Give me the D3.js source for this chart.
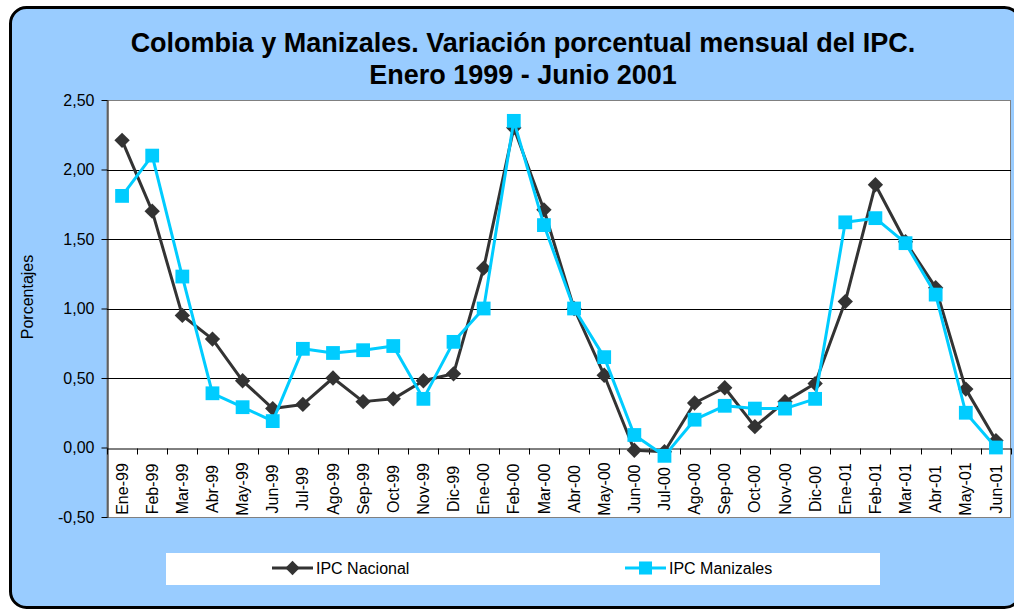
<!DOCTYPE html>
<html>
<head>
<meta charset="utf-8">
<script src="https://cdn.jsdelivr.net/npm/d3@7"></script>
<style>
  body { margin: 0; background: #fff; }
  svg text { font-family: Arial, "Liberation Sans", sans-serif; }
</style>
</head>
<body>
<svg id="chart" width="1014" height="609"></svg>
<script>
// datos
const meses = ['Ene-99', 'Feb-99', 'Mar-99', 'Abr-99', 'May-99', 'Jun-99', 'Jul-99', 'Ago-99', 'Sep-99', 'Oct-99', 'Nov-99', 'Dic-99',
  'Ene-00', 'Feb-00', 'Mar-00', 'Abr-00', 'May-00', 'Jun-00', 'Jul-00', 'Ago-00', 'Sep-00', 'Oct-00', 'Nov-00', 'Dic-00',
  'Ene-01', 'Feb-01', 'Mar-01', 'Abr-01', 'May-01', 'Jun-01'];
const ipcNacional = [2.21, 1.70, 0.95, 0.78, 0.48, 0.28, 0.31, 0.50, 0.33, 0.35, 0.48, 0.53,
  1.29, 2.30, 1.71, 1.00, 0.52, -0.02, -0.03, 0.32, 0.43, 0.15, 0.33, 0.46,
  1.05, 1.89, 1.48, 1.15, 0.42, 0.05];
const ipcManizales = [1.81, 2.10, 1.23, 0.39, 0.29, 0.19, 0.71, 0.68, 0.70, 0.73, 0.35, 0.76,
  1.00, 2.35, 1.60, 1.00, 0.65, 0.09, -0.06, 0.20, 0.30, 0.28, 0.28, 0.35,
  1.62, 1.65, 1.47, 1.10, 0.25, 0.00];
const yTicks = [-0.5, 0, 0.5, 1, 1.5, 2, 2.5];
const gridValues = [0.5, 1, 1.5, 2];
const titulo = ['Colombia y Manizales. Variación porcentual mensual del IPC.', 'Enero 1999 - Junio 2001'];
const series = [
  { name: 'IPC Nacional', values: ipcNacional, color: '#333333', symbol: d3.symbolDiamond2 },
  { name: 'IPC Manizales', values: ipcManizales, color: '#00ccff', symbol: d3.symbolSquare }
];

const svg = d3.select('#chart');
const plot = { left: 107, top: 100, right: 1011, bottom: 517 };
const es = d3.formatLocale({ decimal: ',', thousands: '.', grouping: [3], currency: ['$', ''], minus: '-' });
const fmt = es.format('.2f');

// fondo del grafico
svg.append('rect')
  .attr('x', 10.5).attr('y', 7.5)
  .attr('width', 1010).attr('height', 600)
  .attr('rx', 16)
  .attr('fill', '#99ccff')
  .attr('stroke', '#000').attr('stroke-width', 3);

// titulo
svg.append('g').selectAll('text')
  .data(titulo)
  .enter().append('text')
  .attr('x', 523)
  .attr('y', (d, i) => 52 + i * 32)
  .attr('text-anchor', 'middle')
  .style('font-size', '27px')
  .style('font-weight', 'bold')
  .text(d => d);

const x = d3.scaleBand().domain(meses).range([plot.left, plot.right]);
const y = d3.scaleLinear().domain([-0.5, 2.5]).range([plot.bottom, plot.top]);

// area de trazado
svg.append('rect')
  .attr('x', plot.left).attr('y', plot.top + 0.5)
  .attr('width', plot.right - plot.left - 0.5).attr('height', plot.bottom - plot.top)
  .attr('fill', '#fff')
  .attr('stroke', '#808080').attr('stroke-width', 1);

// lineas de division
svg.append('g').selectAll('line')
  .data(gridValues)
  .enter().append('line')
  .attr('x1', plot.left).attr('x2', plot.right)
  .attr('y1', d => Math.round(y(d)) + 0.5).attr('y2', d => Math.round(y(d)) + 0.5)
  .attr('stroke', '#000').attr('stroke-width', 1);

// eje Y
const yAxis = svg.append('g')
  .attr('transform', `translate(${plot.left + 0.5},0)`)
  .call(d3.axisLeft(y).tickValues(yTicks).tickFormat(fmt).tickSize(6).tickSizeOuter(0));
yAxis.select('.domain').attr('stroke', '#000');
yAxis.selectAll('text').style('font-size', '16px').attr('x', -13).attr('fill', '#000');

// eje X en cero
const y0 = Math.round(y(0)) + 0.5;
const xAxis = svg.append('g')
  .attr('transform', `translate(0,${y0})`)
  .call(d3.axisBottom(x).tickSize(0).tickSizeOuter(0));
xAxis.select('.domain').attr('stroke', '#000');
xAxis.selectAll('text')
  .attr('x', 0).attr('y', 0).attr('dy', '0.35em')
  .attr('transform', `translate(0,${489 - y0}) rotate(-90)`)
  .style('text-anchor', 'middle')
  .style('font-size', '16px')
  .attr('fill', '#000');
// marcas entre categorias
xAxis.append('g').selectAll('line')
  .data(d3.range(meses.length + 1))
  .enter().append('line')
  .attr('x1', i => Math.round(plot.left + i * x.step()) + 0.5)
  .attr('x2', i => Math.round(plot.left + i * x.step()) + 0.5)
  .attr('y1', 0).attr('y2', 6)
  .attr('stroke', '#000');

// titulo eje Y
svg.append('text')
  .attr('transform', 'translate(33,297) rotate(-90)')
  .attr('text-anchor', 'middle')
  .style('font-size', '16px')
  .text('Porcentajes');

// series
const line = d3.line()
  .x((d, i) => x(meses[i]) + x.bandwidth() / 2)
  .y(d => y(d));

series.forEach(s => {
  const g = svg.append('g');
  g.append('path')
    .datum(s.values)
    .attr('d', line)
    .attr('fill', 'none')
    .attr('stroke', s.color)
    .attr('stroke-width', 3)
    .attr('stroke-linejoin', 'round');
  g.selectAll('path.marker')
    .data(s.values)
    .enter().append('path')
    .attr('class', 'marker')
    .attr('d', d3.symbol().type(s.symbol).size(s.symbol === d3.symbolSquare ? 190 : 150))
    .attr('transform', (d, i) => `translate(${x(meses[i]) + x.bandwidth() / 2},${y(d)})`)
    .attr('fill', s.color);
});

// leyenda
svg.append('rect')
  .attr('x', 166).attr('y', 553)
  .attr('width', 714).attr('height', 32)
  .attr('fill', '#fff');

const legend = svg.selectAll('.legend')
  .data(series)
  .enter().append('g')
  .attr('class', 'legend')
  .attr('transform', (d, i) => `translate(${272 + i * 353},568)`);
legend.append('line')
  .attr('x1', 0).attr('x2', 41)
  .attr('stroke', d => d.color).attr('stroke-width', 3);
legend.append('path')
  .attr('d', d => d3.symbol().type(d.symbol).size(d.symbol === d3.symbolSquare ? 170 : 130)())
  .attr('transform', 'translate(20.5,0)')
  .attr('fill', d => d.color);
legend.append('text')
  .attr('x', 44)
  .attr('y', 6)
  .style('font-size', '16px')
  .text(d => d.name);
</script>
</body>
</html>
